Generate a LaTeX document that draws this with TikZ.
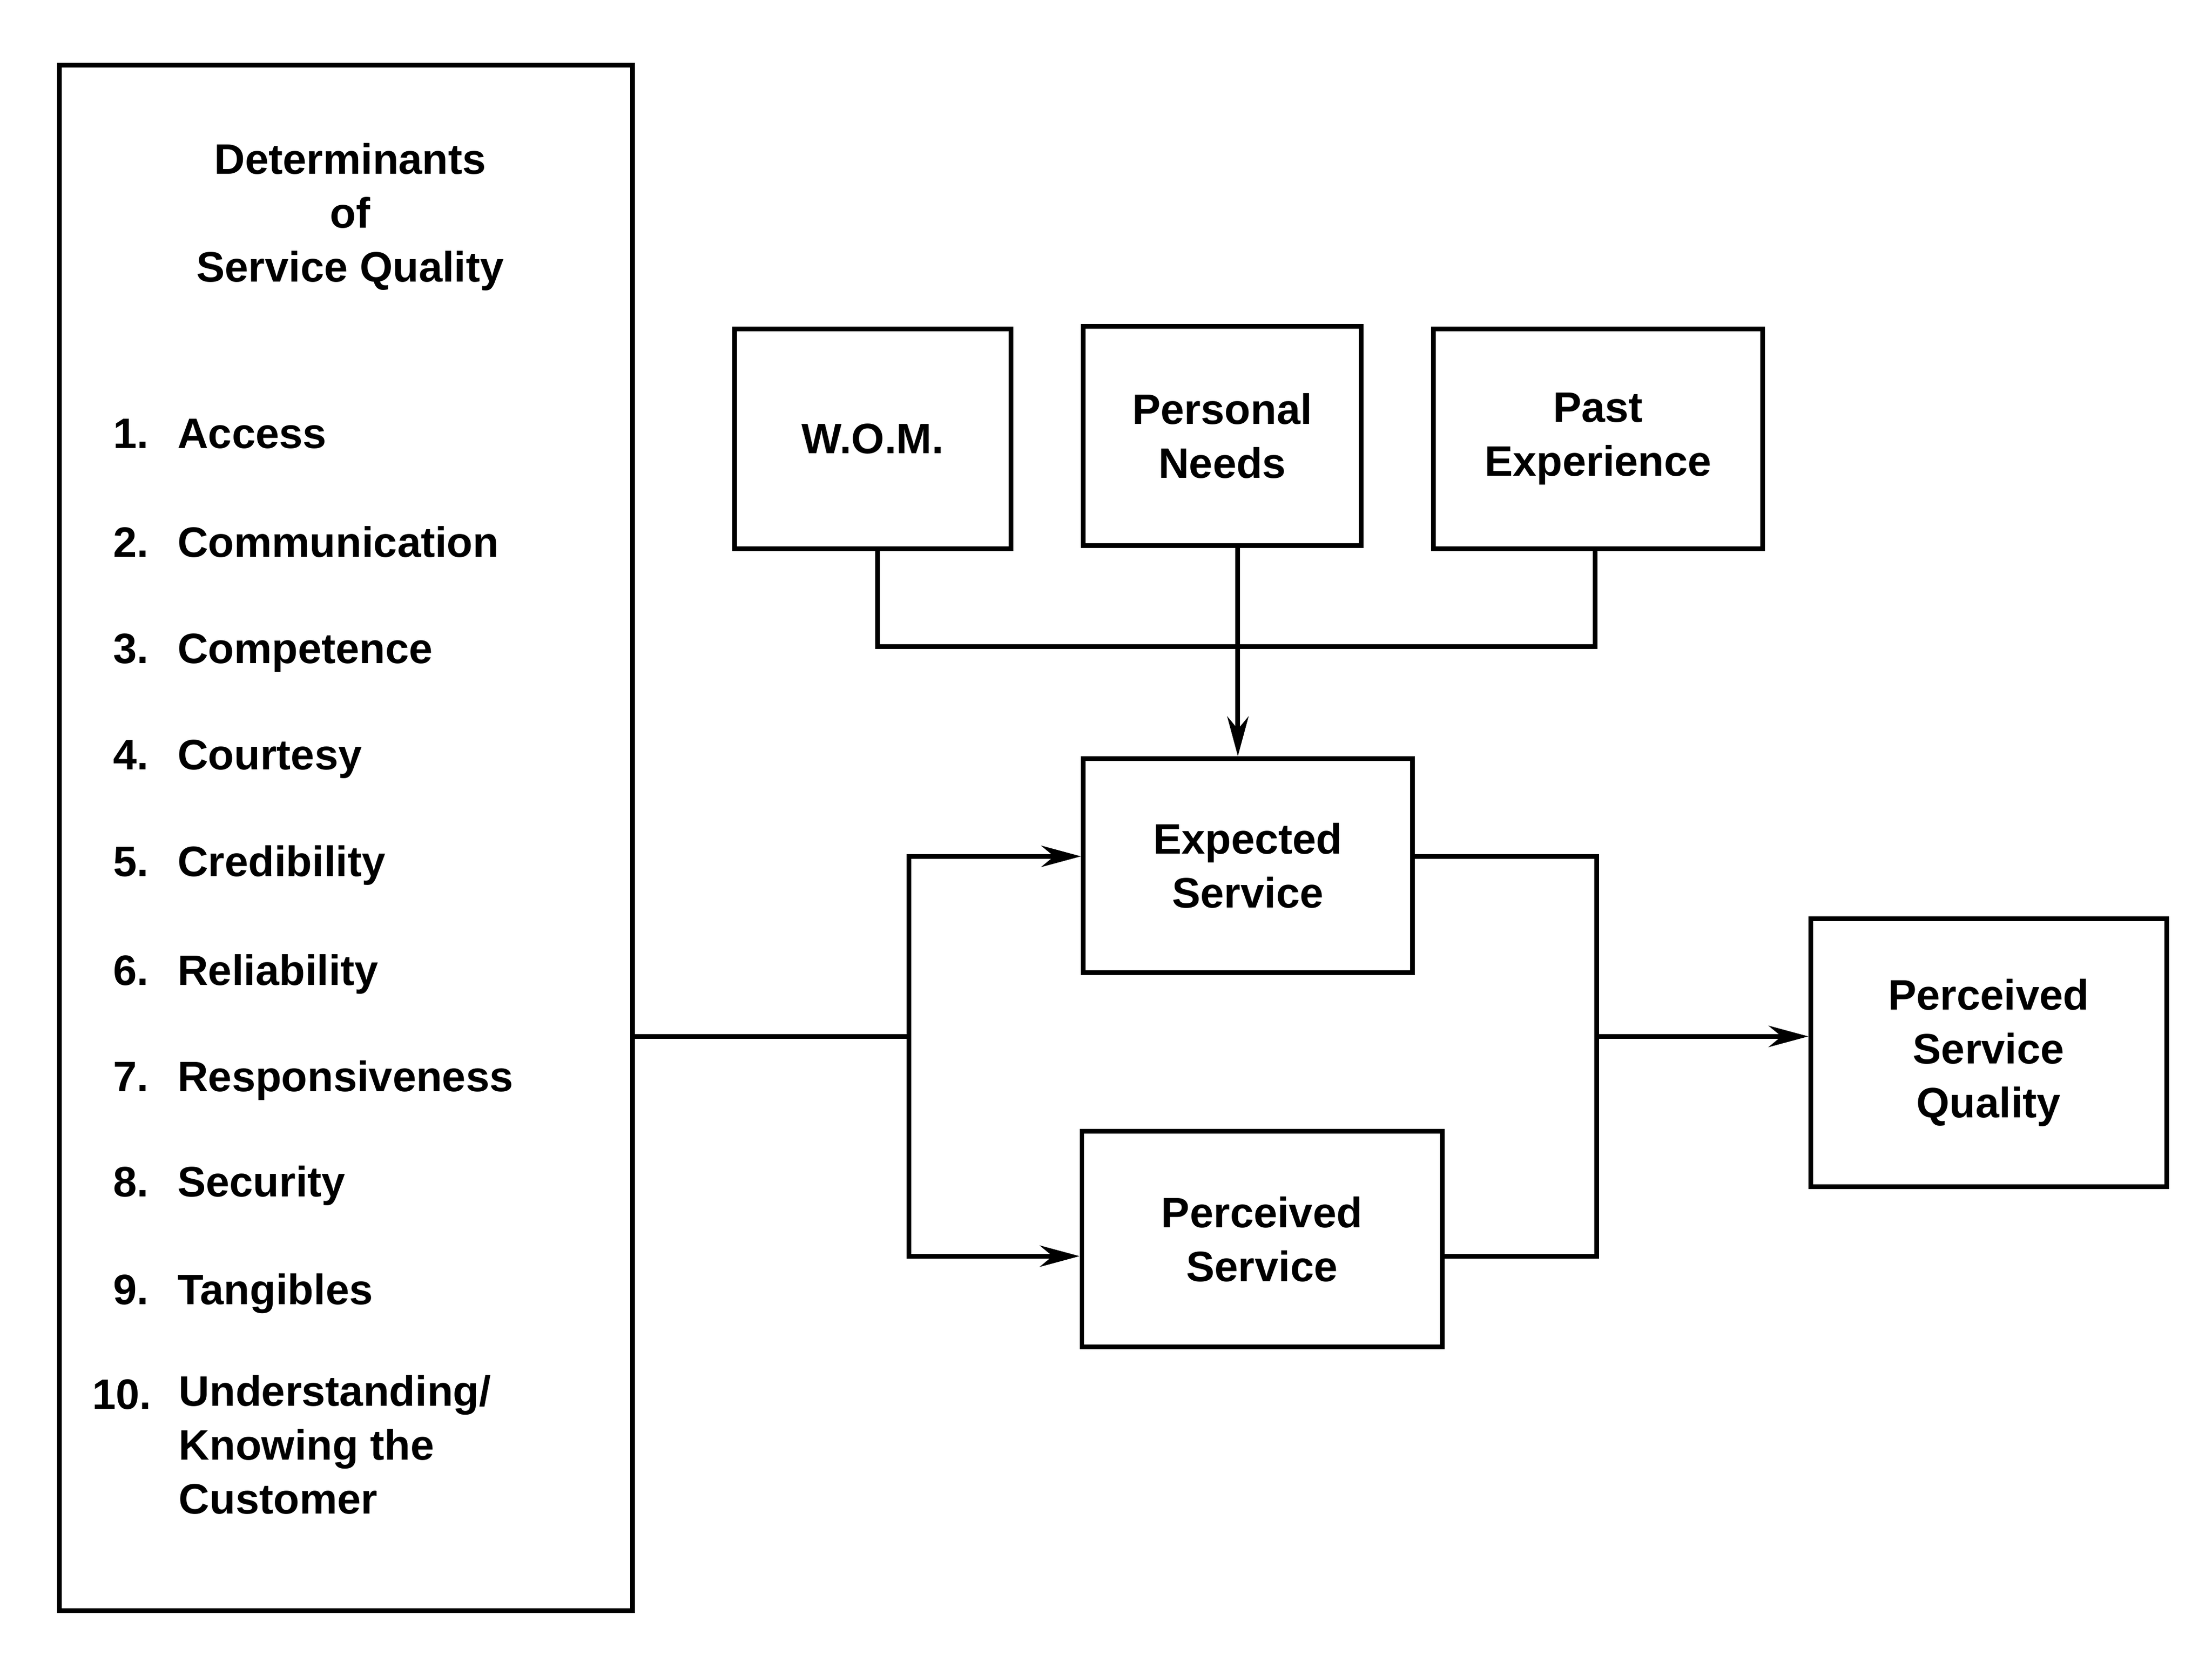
\documentclass[tikz,border=0pt]{standalone}
\usepackage{fontspec}
\setmainfont{Liberation Sans}
\usetikzlibrary{arrows.meta}
\begin{document}
\begin{tikzpicture}[x=1pt,y=-1pt,
  every node/.style={font=\fontsize{30}{38}\selectfont\bfseries, inner sep=0pt},
  box/.style={draw, line width=3.3pt, rectangle, align=center},
  item/.style={anchor=base west},
  num/.style={anchor=base east},
  conn/.style={line width=3.3pt},
  arr/.style={conn, -{Stealth[length=28pt, width=15pt, inset=9pt]}}]
\useasboundingbox (0,0) rectangle (1560,1177);
% left box
\node[box, minimum width=404pt, minimum height=1090pt] (det) at (244,591) {};
\node[align=center] (title) at (247,153) {Determinants\\of\\Service Quality};
\node[num] (n1) at (105,316) {1.};  \node[item] (t1) at (125,316) {Access};
\node[num] (n2) at (105,393) {2.};  \node[item] (t2) at (125,393) {Communication};
\node[num] (n3) at (105,468) {3.};  \node[item] (t3) at (125,468) {Competence};
\node[num] (n4) at (105,543) {4.};  \node[item] (t4) at (125,543) {Courtesy};
\node[num] (n5) at (105,618) {5.};  \node[item] (t5) at (125,618) {Credibility};
\node[num] (n6) at (105,695) {6.};  \node[item] (t6) at (125,695) {Reliability};
\node[num] (n7) at (105,770) {7.};  \node[item] (t7) at (125,770) {Responsiveness};
\node[num] (n8) at (105,844) {8.};  \node[item] (t8) at (125,844) {Security};
\node[num] (n9) at (105,920) {9.};  \node[item] (t9) at (125,920) {Tangibles};
\node[num] (n10) at (107,994) {10.};
\node[align=left, anchor=west] (t10) at (126,1019) {Understanding/\\Knowing the\\Customer};
% top boxes
\node[box, minimum width=195pt, minimum height=155pt] (wom) at (615.5,309.5) {W.O.M.};
\node[box, minimum width=196pt, minimum height=155pt] (pn) at (862,307.5) {Personal\\Needs};
\node[box, minimum width=232pt, minimum height=155pt] (past) at (1127,309.5) {Past\\Experience};
% middle boxes
\node[box, minimum width=232pt, minimum height=151pt] (exp) at (880,610.5) {Expected\\Service};
\node[box, minimum width=254pt, minimum height=152pt] (ps) at (890,874) {Perceived\\Service};
\node[box, minimum width=251pt, minimum height=189pt] (psq) at (1402.5,742.5) {Perceived\\Service\\Quality};
% coordinates
\coordinate (j) at (873,456);
\coordinate (jw) at (619,456);
\coordinate (je) at (1125,456);
\coordinate (sp) at (641,731);
\coordinate (a1) at (641,604);
\coordinate (a2) at (641,886);
\coordinate (r1) at (1126,604);
\coordinate (r2) at (1126,886);
\coordinate (rm) at (1126,731);
% connectors
\draw[conn] (wom.south -| jw) -- (jw) -- (je) -- (past.south -| je);
\draw[arr] (pn.south -| j) -- (exp.north -| j);
\draw[conn] (det.east |- sp) -- (sp);
\draw[arr] (sp) -- (a1) -- (exp.west |- a1);
\draw[arr] (sp) -- (a2) -- (ps.west |- a2);
\draw[conn] (exp.east |- r1) -- (r1) -- (r2) -- (ps.east |- r2);
\draw[arr] (rm) -- (psq.west |- rm);
\end{tikzpicture}
\end{document}
